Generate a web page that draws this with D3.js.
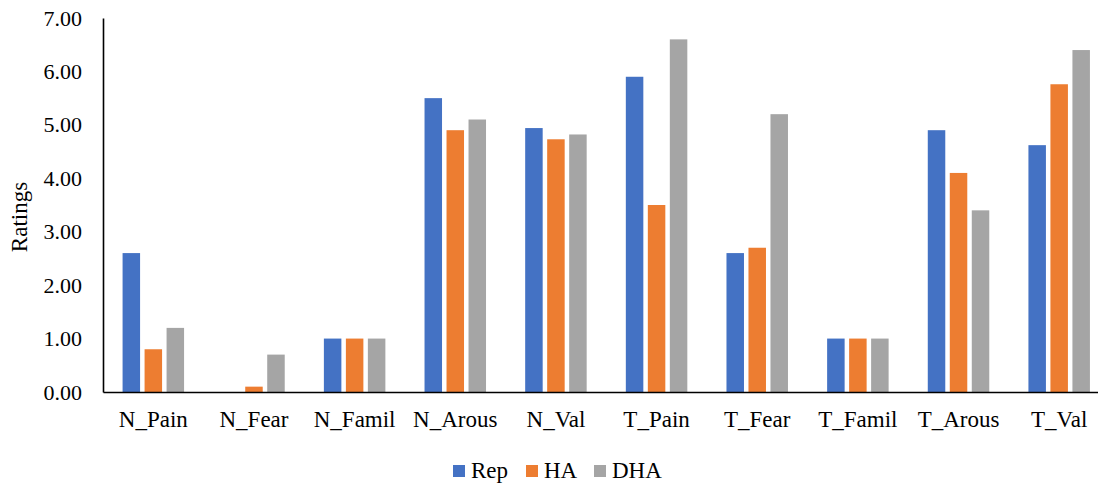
<!DOCTYPE html>
<html>
<head>
<meta charset="utf-8">
<script src="https://cdn.jsdelivr.net/npm/d3@7"></script>
<style>
  html, body { margin: 0; padding: 0; background: #fff; }
  svg text { font-family: "Liberation Serif", "Times New Roman", serif; fill: #000; }
</style>
</head>
<body>
<svg id="chart" width="1098" height="483"></svg>
<script>
// Mean ratings per measure and condition
const categories = ["N_Pain", "N_Fear", "N_Famil", "N_Arous", "N_Val",
                    "T_Pain", "T_Fear", "T_Famil", "T_Arous", "T_Val"];
const seriesNames = ["Rep", "HA", "DHA"];
const repValues = [2.60, 0.00, 1.00, 5.50, 4.94, 5.90, 2.60, 1.00, 4.90, 4.62];
const haValues  = [0.80, 0.10, 1.00, 4.90, 4.73, 3.50, 2.70, 1.00, 4.10, 5.76];
const dhaValues = [1.20, 0.70, 1.00, 5.10, 4.82, 6.60, 5.20, 1.00, 3.40, 6.40];
const yTicks = [0, 1, 2, 3, 4, 5, 6, 7];
const colors = ["#4472C4", "#ED7D31", "#A5A5A5"];

const seriesValues = [repValues, haValues, dhaValues];
const rows = categories.map((c, i) => ({
  category: c,
  values: seriesNames.map((s, j) => ({ series: s, value: seriesValues[j][i] }))
}));

const svg = d3.select("#chart");
const plot = { left: 103, right: 1109.5, top: 18, bottom: 392 };

const x0 = d3.scaleBand().domain(categories).range([plot.left, plot.right]).padding(0);
const x1 = d3.scaleBand().domain(seriesNames).range([0, x0.bandwidth()])
  .paddingInner(0.2045).paddingOuter(0.89);
const y = d3.scaleLinear().domain([0, 7]).range([plot.bottom, plot.top]);
const color = d3.scaleOrdinal().domain(seriesNames).range(colors);

// Bars
const groups = svg.append("g").selectAll("g").data(rows).join("g")
  .attr("transform", d => `translate(${x0(d.category)},0)`);
groups.selectAll("rect").data(d => d.values).join("rect")
  .attr("x", d => x1(d.series))
  .attr("width", x1.bandwidth())
  .attr("y", d => y(d.value))
  .attr("height", d => y(0) - y(d.value))
  .attr("fill", d => color(d.series));

// Y axis
const yAxis = svg.append("g")
  .attr("transform", `translate(${plot.left},0)`)
  .call(d3.axisLeft(y).tickValues(yTicks).tickFormat(d3.format(".2f")).tickSize(0).tickPadding(21));
yAxis.attr("font-family", null).attr("font-size", 22);
yAxis.select(".domain").attr("stroke", "#000").attr("stroke-width", 1.6);

// X axis
const xAxis = svg.append("g")
  .attr("transform", `translate(0,${plot.bottom})`)
  .call(d3.axisBottom(x0).tickSize(0).tickPadding(19));
xAxis.attr("font-family", null).attr("font-size", 23);
xAxis.select(".domain").attr("stroke", "#000").attr("stroke-width", 1.6);

// Y axis title
svg.append("text")
  .attr("transform", "translate(27,217) rotate(-90)")
  .attr("text-anchor", "middle")
  .attr("font-size", 23)
  .text("Ratings");

// Legend
const legendItems = [
  { name: "Rep", x: 453 },
  { name: "HA", x: 526 },
  { name: "DHA", x: 594 }
];
const legend = svg.append("g").selectAll("g").data(legendItems).join("g")
  .attr("transform", d => `translate(${d.x},465)`);
legend.append("rect").attr("width", 12).attr("height", 12).attr("fill", d => color(d.name));
legend.append("text").attr("x", 18).attr("y", 13).attr("font-size", 23).text(d => d.name);
</script>
</body>
</html>
